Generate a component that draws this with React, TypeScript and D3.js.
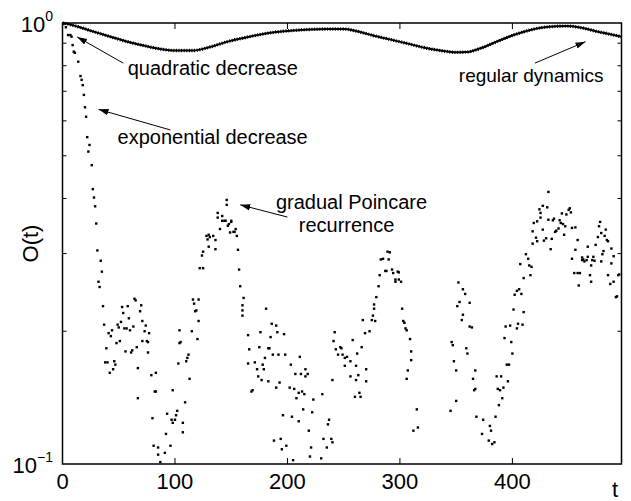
import React from 'react';
import * as d3 from 'd3';

// ---------- data ----------
const xTicks = [0, 100, 200, 300, 400];
const xTickLabels = ['0', '100', '200', '300', '400'];
const yMinorTicks = [0.2, 0.3, 0.4, 0.5, 0.6, 0.7, 0.8, 0.9];
const yMajorTicks = [1, 0.1];
const yMajorExponents = ['0', '\u22121'];

// regular dynamics (smooth curve)
const regularT = [0, 2, 13, 27, 42, 57, 72, 87, 101, 116, 131, 146, 161, 176, 190, 205, 220, 235, 250, 261, 276, 291, 306, 321, 336, 350, 359, 371, 386, 401, 416, 430, 448, 460, 475, 487, 497];
const regularO = [1.0, 0.998, 0.982, 0.957, 0.932, 0.908, 0.889, 0.873, 0.866, 0.866, 0.882, 0.906, 0.925, 0.942, 0.954, 0.962, 0.967, 0.969, 0.969, 0.959, 0.937, 0.918, 0.899, 0.880, 0.866, 0.858, 0.859, 0.875, 0.907, 0.939, 0.964, 0.979, 0.984, 0.977, 0.957, 0.943, 0.931];

// chaotic dynamics (dots)
const chaoticT = [
  1, 3, 5, 7, 8, 9, 10, 11, 14, 16, 17, 18, 19, 20, 21, 22, 23, 24, 26, 27, 28, 29, 30, 31, 32, 33, 34, 35, 36, 37,
  38, 39, 40, 41, 42, 43, 44, 45, 46, 47, 48, 49, 50, 51, 52, 53, 54, 55, 56, 57, 58, 59, 60, 61, 62, 63, 64, 65, 66, 67, 67, 69, 70, 71, 71, 73, 74, 75, 76, 76, 77, 79, 80, 81, 82, 83, 83, 85, 85, 87,
  91, 92, 93, 96, 97, 98, 98, 100, 101, 102, 103, 104, 104, 105, 107, 107, 109, 110, 111, 112, 113, 115, 116, 117, 118, 119, 120, 121, 121, 122, 124, 125, 125, 128, 129, 130, 130, 131, 134, 136, 136, 138, 138, 140, 142, 142, 144, 145, 146, 146, 147, 148, 149, 150, 150, 152, 153, 154, 155, 156, 157, 158, 160, 160, 160, 161, 165, 165, 166,
  168, 169, 171, 173, 174, 175, 176, 177, 178, 179, 180, 181, 183, 183, 184, 185, 186, 187, 188, 190, 190, 191, 192, 193, 194, 195, 196, 197, 198, 199, 202, 203, 204, 205, 206, 207, 208, 210, 210, 211, 212, 213, 214, 215, 216, 216, 218, 219, 220, 221, 222, 223, 230, 231, 232, 235, 236, 237, 239, 240,
  240, 241, 242, 243, 245, 247, 248, 249, 251, 251, 253, 256, 256, 258, 260, 261, 261, 262, 263, 264, 265, 266, 267, 269, 270, 270, 273, 275, 276, 277, 277, 278, 279, 281, 282, 283, 285, 287, 288, 289, 290, 291, 293, 294, 296, 296, 298, 299, 299, 301, 302, 303, 304, 305, 306, 306, 307, 309, 310, 310, 312, 315, 316,
  345, 346, 347, 348, 350, 350, 351, 352, 353, 355, 356, 356, 358, 359, 360, 362, 362, 364, 365, 366, 367, 367, 368, 373, 374, 379, 380, 381, 382, 384, 385, 386, 387, 388, 389, 390, 391, 392, 393, 394, 395, 396, 397, 398, 399, 400,
  401, 402, 404, 404, 405, 406, 407, 408, 409, 410, 410, 412, 414, 415, 416, 417, 418, 418, 419, 421, 422, 422, 424, 425, 425, 427, 427, 428, 430, 431, 432, 432, 434, 435, 436, 437, 438, 439, 441, 442, 443, 444, 445, 446, 447, 448, 450, 451, 452, 453, 453, 455, 456, 456, 458, 458, 459, 460,
  462, 462, 463, 464, 466, 467, 467, 469, 470, 470, 471, 472, 473, 474, 476, 477, 478, 479, 479, 480, 481, 482, 483, 484, 485, 485, 487, 488, 488, 490, 490, 492, 493, 494, 495,
];
const chaoticO = [
  0.995, 0.978, 0.939, 0.939, 0.931, 0.891, 0.861, 0.856, 0.817, 0.758, 0.743, 0.723, 0.687, 0.644, 0.613, 0.551, 0.511, 0.529, 0.476, 0.420, 0.402, 0.384, 0.351, 0.305, 0.259, 0.252, 0.289, 0.273, 0.228, 0.207,
  0.170, 0.183, 0.170, 0.198, 0.161, 0.195, 0.201, 0.164, 0.171, 0.168, 0.188, 0.207, 0.204, 0.190, 0.210, 0.227, 0.220, 0.203, 0.180, 0.203, 0.228, 0.214, 0.201, 0.179, 0.181, 0.205, 0.237, 0.235, 0.184, 0.141, 0.165, 0.222, 0.229, 0.190, 0.211, 0.200, 0.206, 0.190, 0.189, 0.179, 0.198, 0.159, 0.127, 0.110, 0.146, 0.161, 0.146, 0.105, 0.109, 0.101,
  0.106, 0.117, 0.130, 0.110, 0.126, 0.124, 0.147, 0.126, 0.129, 0.132, 0.169, 0.188, 0.201, 0.189, 0.124, 0.118, 0.138, 0.171, 0.174, 0.177, 0.156, 0.200, 0.236, 0.231, 0.222, 0.223, 0.192, 0.211, 0.236, 0.278, 0.297, 0.278, 0.303, 0.329, 0.323, 0.331, 0.311, 0.327, 0.329, 0.322, 0.307, 0.371, 0.362, 0.341, 0.356, 0.365, 0.356, 0.356, 0.397, 0.387, 0.347, 0.350, 0.335, 0.356, 0.354, 0.336, 0.336, 0.341, 0.329, 0.306, 0.276, 0.253, 0.229, 0.217, 0.223, 0.238, 0.196, 0.169, 0.182,
  0.146, 0.147, 0.170, 0.164, 0.158, 0.184, 0.199, 0.155, 0.168, 0.164, 0.174, 0.225, 0.183, 0.154, 0.183, 0.194, 0.208, 0.177, 0.113, 0.206, 0.149, 0.199, 0.177, 0.153, 0.114, 0.108, 0.129, 0.197, 0.177, 0.110, 0.149, 0.168, 0.128, 0.102, 0.148, 0.160, 0.141, 0.145, 0.125, 0.175, 0.160, 0.146, 0.133, 0.144, 0.164, 0.158, 0.160, 0.119, 0.104, 0.109, 0.131, 0.140, 0.103, 0.144, 0.114, 0.109, 0.123, 0.126, 0.114, 0.112,
  0.155, 0.190, 0.199, 0.182, 0.177, 0.184, 0.183, 0.177, 0.174, 0.167, 0.175, 0.158, 0.171, 0.191, 0.142, 0.155, 0.167, 0.178, 0.159, 0.145, 0.142, 0.184, 0.212, 0.198, 0.164, 0.154, 0.200, 0.212, 0.217, 0.225, 0.230, 0.211, 0.239, 0.253, 0.268, 0.291, 0.292, 0.274, 0.274, 0.303, 0.291, 0.302, 0.276, 0.271, 0.262, 0.259, 0.273, 0.272, 0.262, 0.259, 0.225, 0.211, 0.209, 0.203, 0.201, 0.156, 0.163, 0.192, 0.180, 0.172, 0.119, 0.133, 0.121,
  0.132, 0.189, 0.186, 0.171, 0.163, 0.139, 0.228, 0.258, 0.233, 0.212, 0.249, 0.218, 0.243, 0.183, 0.178, 0.232, 0.205, 0.204, 0.156, 0.147, 0.163, 0.148, 0.128, 0.117, 0.126, 0.113, 0.122, 0.119, 0.111, 0.112, 0.128, 0.158, 0.148, 0.136, 0.147, 0.158, 0.141, 0.149, 0.193, 0.205, 0.168, 0.154, 0.168, 0.206, 0.189, 0.178,
  0.224, 0.242, 0.247, 0.203, 0.208, 0.249, 0.284, 0.243, 0.207, 0.221, 0.264, 0.299, 0.292, 0.282, 0.268, 0.280, 0.316, 0.337, 0.352, 0.326, 0.320, 0.355, 0.378, 0.371, 0.362, 0.385, 0.340, 0.321, 0.325, 0.382, 0.414, 0.358, 0.307, 0.324, 0.357, 0.360, 0.336, 0.338, 0.342, 0.357, 0.352, 0.370, 0.350, 0.331, 0.346, 0.368, 0.377, 0.380, 0.372, 0.343, 0.292, 0.271, 0.344, 0.306, 0.322, 0.271, 0.254, 0.271,
  0.290, 0.294, 0.291, 0.288, 0.290, 0.311, 0.295, 0.268, 0.259, 0.282, 0.290, 0.295, 0.289, 0.314, 0.327, 0.346, 0.354, 0.334, 0.288, 0.299, 0.304, 0.329, 0.340, 0.322, 0.320, 0.268, 0.256, 0.285, 0.308, 0.296, 0.259, 0.239, 0.240, 0.268, 0.269,
];

// annotation anchors in data units (t, O)
const annotations = [
  { lines: ['quadratic decrease'], t: 58, o: 0.762, anchor: 'start', size: 20, from: [54, 0.811], to: [13, 0.93] },
  { lines: ['exponential decrease'], t: 49, o: 0.532, anchor: 'start', size: 20, from: [96, 0.572], to: [32, 0.637] },
  { lines: ['gradual Poincare', 'recurrence'], t: 257, o: 0.379, anchor: 'middle', size: 20, from: [200, 0.363], to: [158, 0.387] },
  { lines: ['regular dynamics'], t: 481, o: 0.735, anchor: 'end', size: 19, from: [420, 0.811], to: [465, 0.907] },
];

const FONT = '"Liberation Sans", Arial, Helvetica, sans-serif';

export default function App() {
  const W = 631, H = 501;
  const left = 62.5, right = 621.5, top = 23, bottom = 464;
  const x = d3.scaleLinear().domain([0, 497]).range([left, right]);
  const y = d3.scaleLog().domain([0.1, 1]).range([bottom, top]);

  const line = d3
    .line<number>()
    .x((_, i) => x(regularT[i]))
    .y((d) => y(d))
    .curve(d3.curveMonotoneX);
  const regPath = line(regularO) || '';

  const pts = chaoticT
    .map((t, i) => ({ t, o: chaoticO[i] }))
    .filter((p) => p.o >= 0.1 && p.o <= 1);

  const lineGap = 23;

  return (
    <svg
      width={W}
      height={H}
      style={{ position: 'absolute', left: 0, top: 0, background: '#fff' }}
      fontFamily={FONT}
    >
      <defs>
        <marker id="ah" markerUnits="userSpaceOnUse" markerWidth={12} markerHeight={8} refX={10} refY={4} orient="auto">
          <path d="M0,0.8 L10,4 L0,7.2 Z" fill="#000" />
        </marker>
        <clipPath id="plotclip">
          <rect x={left} y={top - 3} width={right - left} height={bottom - top + 3} />
        </clipPath>
      </defs>
      <rect x={0} y={0} width={W} height={H} fill="#fff" />

      {/* regular dynamics curve */}
      <g clipPath="url(#plotclip)">
        <path d={regPath} fill="none" stroke="#000" strokeWidth={2} />
        <path d={regPath} fill="none" stroke="#000" strokeWidth={3.4} strokeDasharray="1 1.6" />
      </g>

      {/* chaotic dots */}
      <g>
        {pts.map((p, i) => (
          <rect key={i} x={x(p.t) - 1.2} y={y(p.o) - 1.2} width={2.4} height={2.4} fill="#000" />
        ))}
      </g>

      {/* frame */}
      <rect x={left} y={top} width={right - left} height={bottom - top} fill="none" stroke="#000" strokeWidth={1.5} />

      {/* x ticks */}
      {xTicks.map((t, i) => (
        <g key={'xt' + i}>
          <line x1={x(t)} x2={x(t)} y1={bottom} y2={bottom - 6} stroke="#000" strokeWidth={1} />
          <line x1={x(t)} x2={x(t)} y1={top} y2={top + 6} stroke="#000" strokeWidth={1} />
          <text x={x(t)} y={489} textAnchor="middle" fontSize={22} fill="#000">
            {xTickLabels[i]}
          </text>
        </g>
      ))}

      {/* y minor ticks */}
      {yMinorTicks.map((v, i) => (
        <g key={'ym' + i}>
          <line x1={left} x2={left + 4} y1={y(v)} y2={y(v)} stroke="#000" strokeWidth={1} />
          <line x1={right} x2={right - 4} y1={y(v)} y2={y(v)} stroke="#000" strokeWidth={1} />
        </g>
      ))}

      {/* y major labels */}
      {yMajorTicks.map((v, i) => (
        <text key={'yl' + i} x={53} y={y(v) + 9} textAnchor="end" fontSize={22} fill="#000">
          10
          <tspan fontSize={14} dy={-11}>
            {yMajorExponents[i]}
          </tspan>
        </text>
      ))}

      {/* axis labels */}
      <text x={615} y={497} textAnchor="middle" fontSize={22} fill="#000">
        t
      </text>
      <text transform={`translate(38,${(top + bottom) / 2}) rotate(-90)`} textAnchor="middle" fontSize={22} fill="#000">
        O(t)
      </text>

      {/* annotations */}
      {annotations.map((a, i) => (
        <g key={'an' + i}>
          <line
            x1={x(a.from[0])}
            y1={y(a.from[1])}
            x2={x(a.to[0])}
            y2={y(a.to[1])}
            stroke="#000"
            strokeWidth={1}
            markerEnd="url(#ah)"
          />
          {a.lines.map((ln, j) => (
            <text
              key={j}
              x={x(a.t) - (a.anchor === 'middle' ? j * 5 : 0)}
              y={y(a.o) + j * lineGap}
              textAnchor={a.anchor as any}
              fontSize={a.size}
              fill="#000"
            >
              {ln}
            </text>
          ))}
        </g>
      ))}
    </svg>
  );
}
